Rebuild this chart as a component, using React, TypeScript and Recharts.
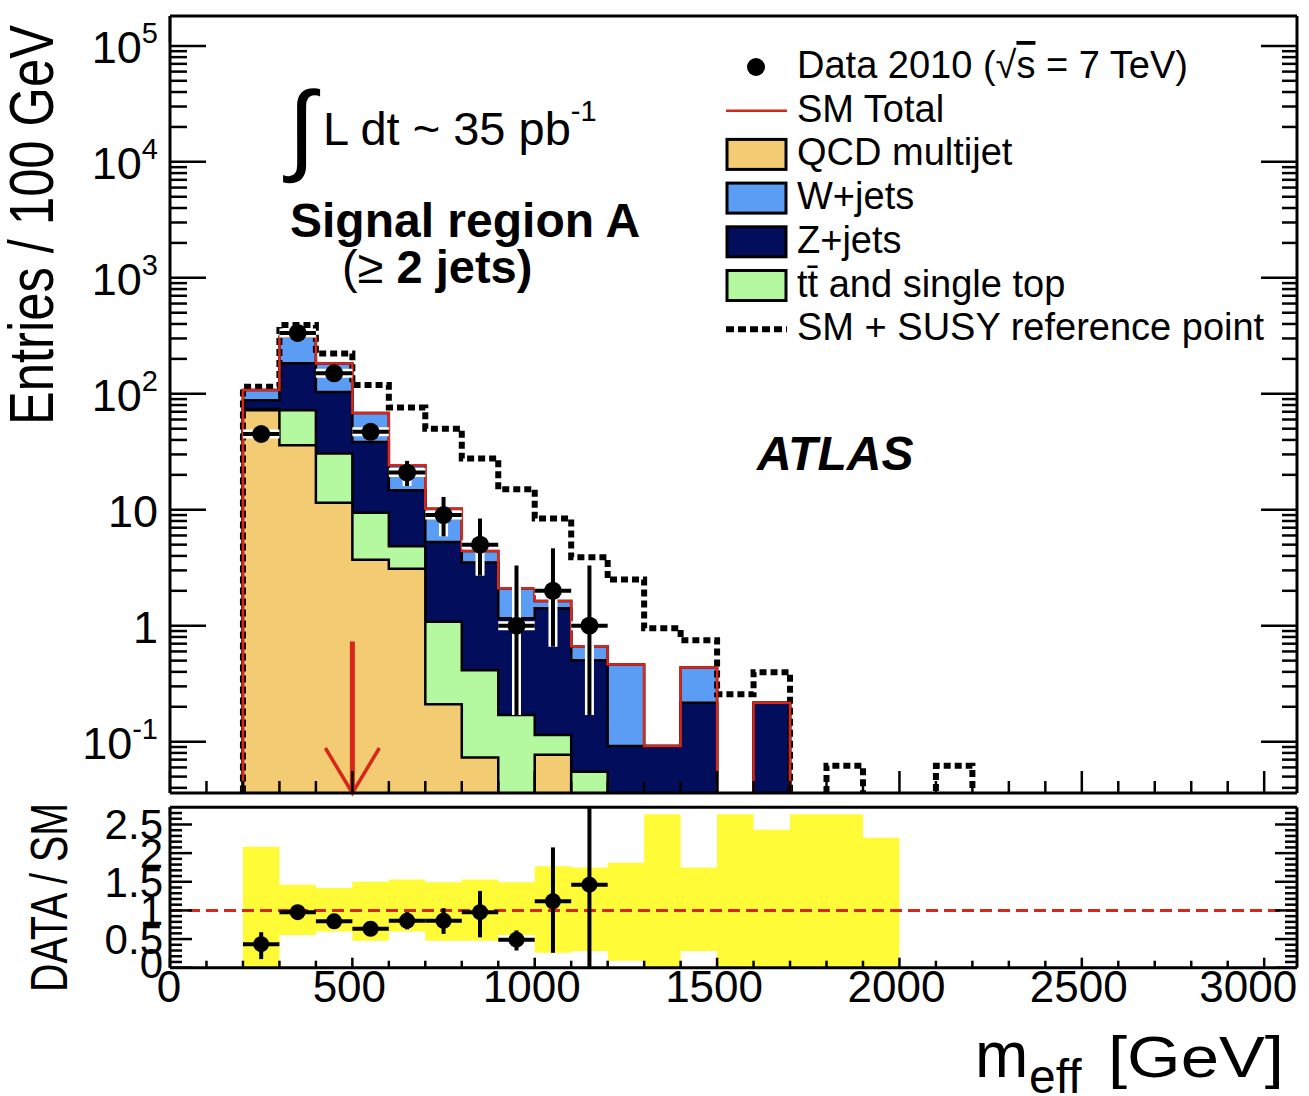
import React from "react";
import {
  ComposedChart,
  Area,
  Line,
  Scatter,
  XAxis,
  YAxis,
  ErrorBar,
  ReferenceLine,
  CartesianGrid,
} from "recharts";

const FONT = '"Liberation Sans", Arial, Helvetica, sans-serif';

// 100 GeV bins, low edges
const binEdges = [200, 300, 400, 500, 600, 700, 800, 900, 1000, 1100, 1200, 1300, 1400, 1500, 1600, 1700, 1800, 1900, 2000, 2100];
const BIN_WIDTH = 100;

// stacked SM backgrounds (entries / 100 GeV)
const qcd = [72, 36, 11.5, 3.7, 3.1, 0.21, 0.073, 0, 0.077, 0, 0, 0, 0, 0, 0, 0, 0, 0, 0, 0];
const ttbar = [2, 36, 19, 5.7, 1.75, 0.87, 0.34, 0.17, 0.037, 0.055, 0, 0, 0, 0, 0, 0, 0, 0, 0, 0];
const zjets = [14, 111, 73, 29, 9.9, 4.2, 3.1, 0.99, 1.3, 0.45, 0.092, 0.092, 0.217, 0, 0.217, 0, 0, 0, 0, 0];
const wjets = [20, 127, 79, 30, 9.5, 4.9, 0.9, 0.94, 0.22, 0.16, 0.37, 0, 0.22, 0, 0, 0, 0, 0, 0, 0];
const smPlusSusy = [115, 391, 223, 119, 76, 50, 27.7, 15, 8.4, 3.9, 2.5, 0.95, 0.75, 0.257, 0.397, 0, 0.062, 0, 0, 0.062];

// data 2010
const dataCenters = [250, 350, 450, 550, 650, 750, 850, 950, 1050, 1150];
const dataCounts = [45, 335, 150, 47, 21, 9, 5, 1, 2, 1];
const dataErrLow = [6.6, 18, 12, 6.8, 5.0, 3.1, 2.3, 0.83, 1.34, 0.83];
const dataErrHigh = [7.8, 19, 13, 7.9, 5.4, 3.9, 3.4, 2.3, 2.65, 2.3];

// ratio panel
const ratioValues = [0.41, 0.97, 0.81, 0.68, 0.82, 0.82, 0.97, 0.49, 1.16, 1.45];
const ratioErrLow = [0.26, 0.06, 0.06, 0.08, 0.15, 0.23, 0.44, 0.19, 0.9, 1.45];
const ratioErrHigh = [0.21, 0.06, 0.06, 0.08, 0.15, 0.22, 0.37, 0.16, 0.94, 1.35];
const bandLow = [0, 0.57, 0.63, 0.47, 0.63, 0.47, 0.47, 0.57, 0.26, 0.29, 0.12, 0, 0.29, 0, 0, 0, 0, 0];
const bandHigh = [2.11, 1.45, 1.39, 1.5, 1.54, 1.49, 1.54, 1.49, 1.77, 1.75, 1.83, 2.68, 1.75, 2.68, 2.41, 2.68, 2.68, 2.27];

const xTickValues = [0, 500, 1000, 1500, 2000, 2500, 3000];
const ratioLabelValues = [0, 0.5, 1, 1.5, 2, 2.5];
const ratioGridValues = [0.5, 1.5, 2, 2.5];

// cut position marked by the arrow
const ARROW_X = 500;
const ARROW_TOP = 0.73;

const X_DOMAIN = [0, 3090];
const Y_MIN = 0.0361;
const Y_MAX = 1.81e5;
const R_MAX = 2.8;
const FLOOR = 1e-4; // empty bins drop below the log axis

const QCD_COLOR = "#F2CB72";
const W_COLOR = "#5B9DF5";
const Z_COLOR = "#020D5C";
const TT_COLOR = "#B4F8A0";
const YELLOW = "#FFFB36";
const RED = "#D8261B";
const FRAME = { stroke: "#000", strokeWidth: 3 };

const pos = (v: number) => (v > 0 ? v : FLOOR);

const lastEdge = binEdges[binEdges.length - 1] + BIN_WIDTH;
const emptyRow = { cumQ: FLOOR, cumT: FLOOR, cumZ: FLOOR, cumW: FLOOR, sm: FLOOR, susy: FLOOR };
const histData = [
  { x: binEdges[0], ...emptyRow },
  ...binEdges.map((x, i) => {
    const q = qcd[i];
    const t = q + ttbar[i];
    const z = t + zjets[i];
    const w = z + wjets[i];
    return { x, cumQ: pos(q), cumT: pos(t), cumZ: pos(z), cumW: pos(w), sm: pos(w), susy: pos(smPlusSusy[i]) };
  }),
  { x: lastEdge, ...emptyRow },
];

const dataPoints = dataCenters.map((x, i) => ({
  x,
  y: dataCounts[i],
  ey: [dataErrLow[i], dataErrHigh[i]],
  ex: BIN_WIDTH / 2,
}));

const ratioPoints = dataCenters.map((x, i) => ({
  x,
  y: ratioValues[i],
  ey: [ratioErrLow[i], ratioErrHigh[i]],
  ex: BIN_WIDTH / 2,
}));

const bandData = [
  ...bandLow.map((lo, i) => ({ x: binEdges[i], band: [lo, bandHigh[i]] })),
  { x: binEdges[bandLow.length], band: [0, 0] },
];

// tick positions
const xAllTicks = Array.from({ length: 31 }, (_, i) => i * 100);
const logTicks: number[] = [];
for (let e = -2; e <= 5; e++) {
  for (let m = 1; m <= 9; m++) {
    const v = m * Math.pow(10, e);
    if (v >= Y_MIN && v <= Y_MAX) logTicks.push(Number(v.toPrecision(3)));
  }
}
const ratioAllTicks = Array.from({ length: 28 }, (_, i) => i / 10);

const isDecade = (v: number) => {
  const l = Math.log10(v);
  return Math.abs(l - Math.round(l)) < 1e-6;
};

function LogLabel({ x, y, v }: { x: number; y: number; v: number }) {
  const e = Math.round(Math.log10(v));
  const common = { x, y: y + 17, textAnchor: "end" as const, fontSize: 45, fontFamily: FONT, fill: "#000" };
  if (e === 0) return <text {...common}>1</text>;
  if (e === 1) return <text {...common}>10</text>;
  return (
    <text {...common}>
      10
      <tspan dy={-20} fontSize={29}>
        {e}
      </tspan>
    </text>
  );
}

function MainLeftTick(props: any) {
  const { x, y, payload } = props;
  const major = isDecade(payload.value);
  return (
    <g>
      <line x1={x} x2={x + (major ? 36 : 17)} y1={y} y2={y} stroke="#000" strokeWidth={2.5} />
      {major && <LogLabel x={x - 12} y={y} v={payload.value} />}
    </g>
  );
}

function MainRightTick(props: any) {
  const { x, y, payload } = props;
  const major = isDecade(payload.value);
  return <line x1={x} x2={x - (major ? 36 : 15)} y1={y} y2={y} stroke="#000" strokeWidth={2.5} />;
}

function makeXTick(dir: number, majorLen: number, minorLen: number) {
  return function XTick(props: any) {
    const { x, y, payload } = props;
    const len = payload.value % 500 === 0 ? majorLen : minorLen;
    return <line x1={x} x2={x} y1={y} y2={y + dir * len} stroke="#000" strokeWidth={2.5} />;
  };
}

function RatioBottomTick(props: any) {
  const { x, y, payload } = props;
  const v = payload.value;
  const major = v % 500 === 0;
  const last = v === xTickValues[xTickValues.length - 1];
  return (
    <g>
      <line x1={x} x2={x} y1={y} y2={y - (major ? 10 : 7)} stroke="#000" strokeWidth={2.5} />
      {xTickValues.includes(v) && (
        <text
          x={last ? x + 33 : x - (v > 0 ? 3 : 1)}
          y={y + 34}
          textAnchor={last ? "end" : "middle"}
          fontSize={44}
          fontFamily={FONT}
          fill="#000"
        >
          {v}
        </text>
      )}
    </g>
  );
}

function RatioLeftTick(props: any) {
  const { x, y, payload } = props;
  const v = payload.value;
  const major = ratioLabelValues.some((r) => Math.abs(r - v) < 1e-6);
  return (
    <g>
      <line x1={x} x2={x + (major ? 22 : 12)} y1={y} y2={y} stroke="#000" strokeWidth={2.5} />
      {major && (
        <text x={x - 7} y={y + (v === 0 ? 10 : 15)} textAnchor="end" fontSize={42} fontFamily={FONT} fill="#000">
          {v}
        </text>
      )}
    </g>
  );
}

function RatioRightTick(props: any) {
  const { x, y, payload } = props;
  const major = ratioLabelValues.some((r) => Math.abs(r - payload.value) < 1e-6);
  return <line x1={x} x2={x - (major ? 22 : 12)} y1={y} y2={y} stroke="#000" strokeWidth={2.5} />;
}

function Dot(r: number) {
  return function DotShape(props: any) {
    const { cx, cy } = props;
    if (cx == null || cy == null) return <g />;
    return <circle cx={cx} cy={cy} r={r} fill="#000" />;
  };
}

function NoMarker() {
  return <g />;
}

function CutArrow(props: any) {
  const { x1, y1, x2, y2 } = props;
  return (
    <g>
      <line x1={x1} y1={y1} x2={x2} y2={y2 - 3} stroke={RED} strokeWidth={5} />
      <polyline
        points={`${x2 - 27},${y2 - 45} ${x2},${y2} ${x2 + 27},${y2 - 45}`}
        fill="none"
        stroke={RED}
        strokeWidth={3.5}
      />
    </g>
  );
}

function MainPanel() {
  return (
    <ComposedChart width={1309} height={800} data={histData} margin={{ top: 16, right: 12, bottom: 7, left: 0 }}>
      <XAxis
        xAxisId={0}
        dataKey="x"
        type="number"
        domain={X_DOMAIN}
        allowDataOverflow
        orientation="bottom"
        mirror
        height={1}
        ticks={xAllTicks}
        interval={0}
        tickLine={false}
        tickSize={0}
        tickMargin={0}
        axisLine={FRAME}
        tick={makeXTick(-1, 22, 12)}
      />
      <XAxis
        xAxisId="top"
        type="number"
        domain={X_DOMAIN}
        allowDataOverflow
        orientation="top"
        mirror
        height={1}
        ticks={xAllTicks}
        interval={0}
        tickLine={false}
        tickSize={0}
        tickMargin={0}
        axisLine={FRAME}
        tick={makeXTick(1, 26, 14)}
      />
      <YAxis
        yAxisId={0}
        type="number"
        scale="log"
        domain={[Y_MIN, Y_MAX]}
        allowDataOverflow
        width={170}
        ticks={logTicks}
        interval={0}
        tickLine={false}
        tickSize={0}
        tickMargin={0}
        axisLine={FRAME}
        tick={MainLeftTick}
      />
      <YAxis
        yAxisId="right"
        orientation="right"
        mirror
        type="number"
        scale="log"
        domain={[Y_MIN, Y_MAX]}
        allowDataOverflow
        width={1}
        ticks={logTicks}
        interval={0}
        tickLine={false}
        tickSize={0}
        tickMargin={0}
        axisLine={FRAME}
        tick={MainRightTick}
      />
      <Area dataKey="cumW" type="stepAfter" baseValue={FLOOR} fill={W_COLOR} fillOpacity={1} stroke="#000" strokeWidth={2.5} dot={false} activeDot={false} isAnimationActive={false} />
      <Area dataKey="cumZ" type="stepAfter" baseValue={FLOOR} fill={Z_COLOR} fillOpacity={1} stroke="#000" strokeWidth={2.5} dot={false} activeDot={false} isAnimationActive={false} />
      <Area dataKey="cumT" type="stepAfter" baseValue={FLOOR} fill={TT_COLOR} fillOpacity={1} stroke="#000" strokeWidth={2.5} dot={false} activeDot={false} isAnimationActive={false} />
      <Area dataKey="cumQ" type="stepAfter" baseValue={FLOOR} fill={QCD_COLOR} fillOpacity={1} stroke="#000" strokeWidth={2.5} dot={false} activeDot={false} isAnimationActive={false} />
      <Line dataKey="susy" type="stepAfter" stroke="#000" strokeWidth={6} strokeDasharray="7 4" dot={false} activeDot={false} isAnimationActive={false} />
      <Line dataKey="sm" type="stepAfter" stroke={RED} strokeWidth={2.5} dot={false} activeDot={false} isAnimationActive={false} />
      <ReferenceLine
        segment={[
          { x: ARROW_X, y: ARROW_TOP },
          { x: ARROW_X, y: Y_MIN },
        ]}
        ifOverflow="visible"
        stroke={RED}
        strokeWidth={5}
        shape={CutArrow}
      />
      {/* white halo first, then the black data points on top */}
      <Scatter data={dataPoints} dataKey="y" shape={NoMarker} isAnimationActive={false}>
        <ErrorBar dataKey="ey" direction="y" width={0} stroke="#fff" strokeWidth={9} />
        <ErrorBar dataKey="ex" direction="x" width={0} stroke="#fff" strokeWidth={9} />
      </Scatter>
      <Scatter data={dataPoints} dataKey="y" shape={Dot(9)} isAnimationActive={false}>
        <ErrorBar dataKey="ey" direction="y" width={0} stroke="#000" strokeWidth={4} />
        <ErrorBar dataKey="ex" direction="x" width={0} stroke="#000" strokeWidth={4} />
      </Scatter>
    </ComposedChart>
  );
}

function RatioPanel() {
  return (
    <ComposedChart width={1309} height={316} data={bandData} margin={{ top: 27.3, right: 12, bottom: 88.3, left: 0 }}>
      <CartesianGrid
        yAxisId="grid"
        vertical={false}
        horizontalValues={ratioGridValues}
        stroke="#000"
        strokeWidth={2}
        strokeDasharray="13 4 3 4"
      />
      <XAxis
        xAxisId={0}
        dataKey="x"
        type="number"
        domain={X_DOMAIN}
        allowDataOverflow
        orientation="bottom"
        height={40}
        ticks={xAllTicks}
        interval={0}
        tickLine={false}
        tickSize={0}
        tickMargin={0}
        axisLine={FRAME}
        tick={RatioBottomTick}
      />
      <XAxis
        xAxisId="top"
        type="number"
        domain={X_DOMAIN}
        allowDataOverflow
        orientation="top"
        mirror
        height={1}
        ticks={xAllTicks}
        interval={0}
        tickLine={false}
        tickSize={0}
        tickMargin={0}
        axisLine={FRAME}
        tick={makeXTick(1, 9, 6)}
      />
      <YAxis
        yAxisId={0}
        type="number"
        domain={[0, R_MAX]}
        allowDataOverflow
        width={170}
        ticks={ratioAllTicks}
        interval={0}
        tickLine={false}
        tickSize={0}
        tickMargin={0}
        axisLine={FRAME}
        tick={RatioLeftTick}
      />
      <YAxis
        yAxisId="right"
        orientation="right"
        mirror
        type="number"
        domain={[0, R_MAX]}
        allowDataOverflow
        width={1}
        ticks={ratioAllTicks}
        interval={0}
        tickLine={false}
        tickSize={0}
        tickMargin={0}
        axisLine={FRAME}
        tick={RatioRightTick}
      />
      <YAxis
        yAxisId="grid"
        mirror
        type="number"
        domain={[0, R_MAX]}
        allowDataOverflow
        width={1}
        ticks={ratioGridValues}
        interval={0}
        tick={false}
        tickLine={false}
        axisLine={false}
      />
      <Area dataKey="band" type="stepAfter" fill={YELLOW} fillOpacity={1} stroke="none" dot={false} activeDot={false} isAnimationActive={false} />
      <ReferenceLine y={1} stroke={RED} strokeWidth={3} strokeDasharray="12 6" />
      <Scatter data={ratioPoints} dataKey="y" shape={Dot(8)} isAnimationActive={false}>
        <ErrorBar dataKey="ey" direction="y" width={0} stroke="#000" strokeWidth={4} />
        <ErrorBar dataKey="ex" direction="x" width={0} stroke="#000" strokeWidth={4} />
      </Scatter>
    </ComposedChart>
  );
}

const legendRows = [
  { label: "QCD multijet", color: QCD_COLOR },
  { label: "W+jets", color: W_COLOR },
  { label: "Z+jets", color: Z_COLOR },
  { label: "tt\u0304 and single top", color: TT_COLOR },
];

function Overlay() {
  const rowY = (i: number) => 67 + i * 43.7;
  return (
    <svg
      width={1309}
      height={1096}
      style={{ position: "absolute", left: 0, top: 0, pointerEvents: "none" }}
      fontFamily={FONT}
      fill="#000"
    >
      {/* axis titles */}
      <text
        transform="translate(53,25) rotate(-90) scale(1,1.3)"
        textAnchor="end"
        fontSize={49}
        textLength={400}
        lengthAdjust="spacingAndGlyphs"
      >
        Entries / 100 GeV
      </text>
      <text
        transform="translate(67,992) rotate(-90) scale(1,1.35)"
        fontSize={38}
        textLength={189}
        lengthAdjust="spacingAndGlyphs"
      >
        DATA / SM
      </text>
      <text x={975} y={1077} fontSize={64}>
        m
      </text>
      <text x={1029} y={1093} fontSize={48}>
        eff
      </text>
      <text x={1108} y={1077} fontSize={58} textLength={176} lengthAdjust="spacingAndGlyphs">
        [GeV]
      </text>

      {/* annotations */}
      <text x={288} y={162} fontSize={100}>
        ∫
      </text>
      <text x={323} y={145} fontSize={47}>
        L dt ~ 35 pb
        <tspan dy={-24} fontSize={29}>
          -1
        </tspan>
      </text>
      <text x={290} y={237} fontSize={48} fontWeight="bold">
        Signal region A
      </text>
      <text x={342} y={283} fontSize={47}>
        <tspan>(≥ </tspan>
        <tspan fontWeight="bold">2 jets)</tspan>
      </text>
      <text x={757} y={470} fontSize={48} fontWeight="bold" fontStyle="italic">
        ATLAS
      </text>

      {/* legend */}
      <circle cx={756} cy={rowY(0)} r={9} />
      <text x={797} y={rowY(0) + 11} fontSize={38}>
        Data 2010 (√<tspan style={{ textDecoration: "overline" }}>s</tspan> = 7 TeV)
      </text>
      <line x1={726} x2={787} y1={rowY(1)} y2={rowY(1)} stroke={RED} strokeWidth={2.5} />
      <text x={797} y={rowY(1) + 11} fontSize={38}>
        SM Total
      </text>
      {legendRows.map((r, i) => (
        <g key={r.label}>
          <rect x={727} y={rowY(i + 2) - 15} width={59} height={30} fill={r.color} stroke="#000" strokeWidth={3} />
          <text x={797} y={rowY(i + 2) + 11} fontSize={38}>
            {r.label}
          </text>
        </g>
      ))}
      <line
        x1={726}
        x2={787}
        y1={rowY(6)}
        y2={rowY(6)}
        stroke="#000"
        strokeWidth={6}
        strokeDasharray="8 4"
      />
      <text x={797} y={rowY(6) + 11} fontSize={38}>
        SM + SUSY reference point
      </text>
    </svg>
  );
}

export default function App() {
  return (
    <div
      style={{
        position: "absolute",
        left: 0,
        top: 0,
        width: 1309,
        height: 1096,
        background: "#fff",
        fontFamily: FONT,
        overflow: "hidden",
      }}
    >
      <div style={{ position: "absolute", left: 0, top: 0 }}>
        <MainPanel />
      </div>
      <div style={{ position: "absolute", left: 0, top: 780 }}>
        <RatioPanel />
      </div>
      <Overlay />
    </div>
  );
}
